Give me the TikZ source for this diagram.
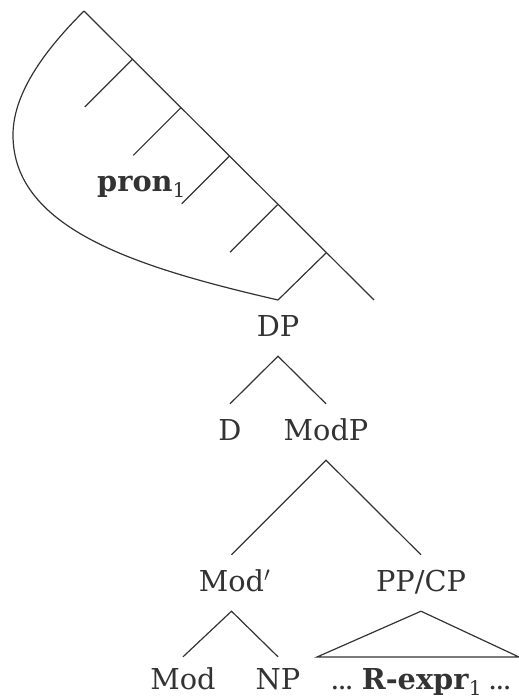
\documentclass[tikz,border=0pt]{standalone}
\usepackage{fontspec}
\setmainfont{DejaVu Serif}
\usetikzlibrary{calc}
\definecolor{ink}{HTML}{333333}
\newcommand{\tightdots}{.\kern-2pt.\kern-2pt.}
\tikzset{
  lbl/.style={font=\fontsize{28.8}{34}\selectfont, text=ink, inner xsep=0pt,
    inner ysep=15pt, text height=21pt, text depth=5pt, anchor=base},
  leaf/.style={lbl, inner ysep=1pt},
  branch/.style={draw=ink, line width=1.2pt},
}
\begin{document}
\begin{tikzpicture}[x=1pt,y=-1pt]
\useasboundingbox (0,0) rectangle (519,699);

% the pronoun's roof with its branch ticks
\coordinate (top) at (84,11);
\coordinate (bot) at (374,300);
\coordinate (tip) at (278,300);
\draw[branch] (top) -- (bot);
\draw[branch] (top) .. controls (50,45) and (13,90) .. (13,135)
  .. controls (13,230) and (140,268) .. (tip);
\foreach \k in {1,...,4}{
  \coordinate (t\k) at ($(top)+(48.4*\k,48.4*\k)$);
  \draw[branch] (t\k) -- +(-47.5,47.5);
}
\coordinate (t5) at (326,253);
\draw[branch] (t5) -- (tip);
\node[font=\fontsize{28.8}{34}\selectfont, text=ink, anchor=base west, inner sep=0pt]
  (pron) at (97,191) {\textbf{pron}\textsubscript{1}};

% tree labels
\node[lbl] (dp) at (278,336) {DP};
\node[lbl] (d) at (230,440) {D};
\node[lbl] (modp) at (326,440) {ModP};
\node[lbl] (modbar) at (231.5,591) {Mod\rlap{$'$}};
\node[lbl] (ppcp) at (421,591) {PP/CP};
\node[leaf] (mod) at (183,689) {Mod};
\node[leaf] (np) at (278,689) {NP};
\node[leaf] (rexpr) at (421,689)
  {\tightdots\kern8pt\textbf{R-expr}\textsubscript{1}\kern6pt\tightdots};

% branch ends sit a little above the leaves
\coordinate (modtop) at ($(mod.north)+(0,-10)$);
\coordinate (nptop) at ($(np.north)+(0,-10)$);

% branches
\draw[branch] (d.north) -- (dp.south) -- (modp.north);
\draw[branch] (modbar.north) -- (modp.south) -- (ppcp.north);
\draw[branch] (modtop) -- (modbar.south) -- (nptop);
\coordinate (tl) at (317,657);
\coordinate (tr) at (519,657);
\draw[branch, line join=miter] (ppcp.south) -- (tl) -- (tr) -- cycle;
\end{tikzpicture}
\end{document}
